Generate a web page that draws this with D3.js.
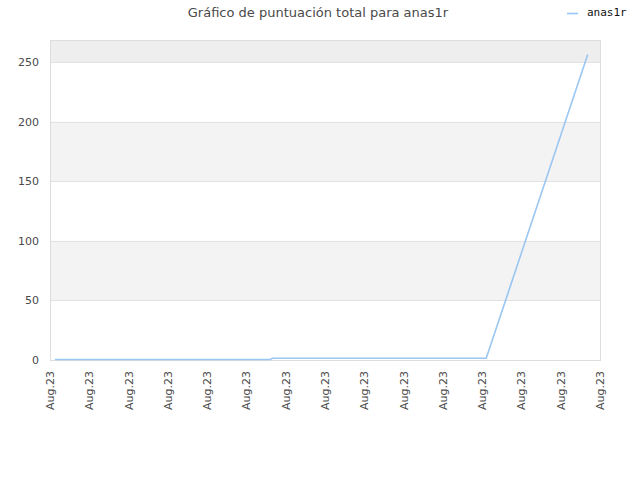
<!DOCTYPE html>
<html>
<head>
<meta charset="utf-8">
<script src="https://cdn.jsdelivr.net/npm/d3@7"></script>
<style>
  body { margin: 0; background: #fff; }
  text { font-family: "DejaVu Sans", sans-serif; }
</style>
</head>
<body>
<div id="chart"></div>
<script>
// data
var seriesName = "anas1r";
var dates = ["2023-08-01T06:00", "2023-08-12T05:00", "2023-08-12T08:00", "2023-08-23T05:00", "2023-08-28T09:00"];
var scores = [0, 0, 1, 1, 256];
var yTicks = [0, 50, 100, 150, 200, 250];
var xStart = "2023-08-01T00:00", xEnd = "2023-08-29T00:00";

var W = 640, H = 480;
var m = {top: 40, right: 40, bottom: 120, left: 50};
var parse = d3.isoParse;

var svg = d3.select("#chart").append("svg")
    .attr("width", W).attr("height", H);

var x = d3.scaleTime()
    .domain([parse(xStart), parse(xEnd)])
    .range([m.left, W - m.right]);
var y = d3.scaleLinear()
    .domain([0, 268.5])
    .range([H - m.bottom, m.top]);

// background bands
var bands = [[250, 268.5, "#eeeeee"], [150, 200, "#f3f3f3"], [50, 100, "#f3f3f3"]];
svg.selectAll(".band").data(bands).enter().append("rect")
    .attr("x", m.left).attr("width", W - m.left - m.right)
    .attr("y", function(d) { return y(d[1]); })
    .attr("height", function(d) { return y(d[0]) - y(d[1]); })
    .attr("fill", function(d) { return d[2]; });

// grid lines
svg.selectAll(".grid").data(yTicks.slice(1)).enter().append("line")
    .attr("x1", m.left).attr("x2", W - m.right)
    .attr("y1", function(d) { return Math.round(y(d)) + 0.5; })
    .attr("y2", function(d) { return Math.round(y(d)) + 0.5; })
    .attr("stroke", "#e2e2e2");

// frame
svg.append("rect")
    .attr("x", m.left + 0.5).attr("y", m.top + 0.5)
    .attr("width", W - m.left - m.right).attr("height", H - m.top - m.bottom)
    .attr("fill", "none").attr("stroke", "#dddddd");

// y axis labels
svg.selectAll(".ylab").data(yTicks).enter().append("text")
    .attr("x", m.left - 11).attr("y", function(d) { return y(d) + 4; })
    .attr("text-anchor", "end").attr("font-size", 11).attr("fill", "#4a4a4a")
    .text(function(d) { return d; });

// x axis labels
var xTicks = d3.timeDay.range(parse(xStart), d3.timeDay.offset(parse(xEnd), 1), 2);
var fmt = d3.timeFormat("%b.%y");
svg.selectAll(".xlab").data(xTicks).enter().append("text")
    .attr("transform", function(d) { return "translate(" + (x(d) + 4) + "," + (H - m.bottom + 11) + ") rotate(-90)"; })
    .attr("text-anchor", "end").attr("font-size", 11).attr("fill", "#4a4a4a")
    .text(function(d) { return fmt(d); });

// line
var pts = dates.map(function(d, i) { return [parse(d), scores[i]]; });
var line = d3.line()
    .x(function(d) { return x(d[0]); })
    .y(function(d) { return y(d[1]) - 0.5; });
svg.append("path").datum(pts)
    .attr("d", line)
    .attr("fill", "none").attr("stroke", "#99c6f3").attr("stroke-width", 1.6);

// title
svg.append("text")
    .attr("x", 318).attr("y", 17)
    .attr("text-anchor", "middle").attr("font-size", 13).attr("fill", "#4a4a4a")
    .text("Gráfico de puntuación total para " + seriesName);

// legend
svg.append("line").attr("x1", 567).attr("x2", 578).attr("y1", 13.5).attr("y2", 13.5)
    .attr("stroke", "#99c6f3").attr("stroke-width", 1.6);
svg.append("text").attr("x", 587).attr("y", 16)
    .attr("font-size", 11).attr("fill", "#111")
    .style("font-family", "'DejaVu Sans Mono', monospace")
    .text(seriesName);
</script>
</body>
</html>
